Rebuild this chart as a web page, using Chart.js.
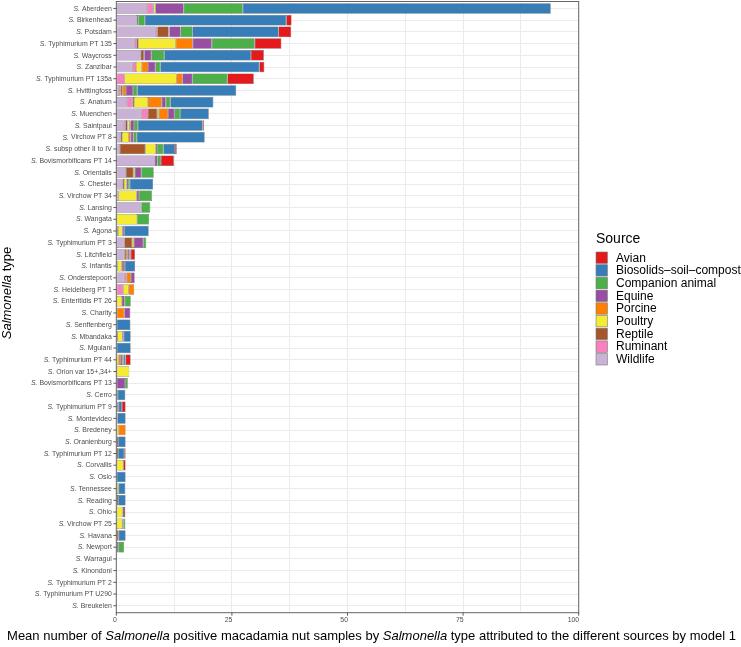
<!DOCTYPE html>
<html>
<head>
<meta charset="utf-8">
<script src="https://cdn.jsdelivr.net/npm/chart.js@4.4.1/dist/chart.umd.min.js"></script>
<style>
  html, body { margin: 0; padding: 0; background: #fff; }
  #wrap { position: relative; width: 741px; height: 647px; }
</style>
</head>
<body>
<div id="wrap"><canvas id="chartCanvas" width="741" height="647"></canvas></div>
<script>
// Salmonella types, top to bottom (the italic "S." is added when drawn)
const serotypes = ['Aberdeen', 'Birkenhead', 'Potsdam', 'Typhimurium PT 135', 'Waycross', 'Zanzibar',
  'Typhimurium PT 135a', 'Hvittingfoss', 'Anatum', 'Muenchen', 'Saintpaul', 'Virchow PT 8',
  'subsp other II to IV', 'Bovismorbificans PT 14', 'Orientalis', 'Chester', 'Virchow PT 34', 'Lansing',
  'Wangata', 'Agona', 'Typhimurium PT 3', 'Litchfield', 'Infantis', 'Onderstepoort', 'Heidelberg PT 1',
  'Enteritidis PT 26', 'Charity', 'Senftenberg', 'Mbandaka', 'Mgulani', 'Typhimurium PT 44',
  'Orion var 15+,34+', 'Bovismorbificans PT 13', 'Cerro', 'Typhimurium PT 9', 'Montevideo', 'Bredeney',
  'Oranienburg', 'Typhimurium PT 12', 'Corvallis', 'Oslo', 'Tennessee', 'Reading', 'Ohio',
  'Virchow PT 25', 'Havana', 'Newport', 'Warragul', 'Kinondoni', 'Typhimurium PT 2',
  'Typhimurium PT U290', 'Breukelen'];

// mean attributed samples per source (same order as serotypes)
const wildlife   = [6.6, 4.5, 8.5, 3.9, 5.26, 3.46, 0, 0.58, 2.24, 5.4, 1.59, 0.94, 0.8, 8.3, 2.1, 1.37, 0.5, 5.4, 0.1, 0.3, 1.73, 1.73, 0.25, 1.73, 0, 0, 0, 0, 0.3, 0, 0, 0, 0.1, 0, 0, 0, 0, 0, 0, 0, 0, 0.15, 0, 0, 0, 0, 0, 0, 0, 0, 0, 0];
const ruminant   = [1.3, 0, 0.35, 0.6, 0, 0.8, 1.8, 0.36, 1.23, 1.44, 0.5, 0, 0, 0, 0, 0, 0, 0, 0, 0, 0, 0, 0, 0.5, 1.5, 0, 0, 0, 0, 0, 0, 0, 0, 0, 0, 0, 0, 0, 0, 0, 0, 0, 0, 0, 0, 0, 0, 0, 0, 0, 0, 0];
const reptile    = [0.15, 0, 2.45, 0.2, 0.7, 0, 0, 0.43, 0.36, 2.0, 0.25, 0.3, 5.48, 0, 1.59, 0.3, 0, 0, 0, 0.1, 1.66, 0.4, 0, 0, 0, 0, 0, 0, 0, 0, 0, 0, 0, 0, 0.3, 0, 0, 0.4, 0.4, 0, 0, 0, 0.4, 0, 0, 0.5, 0, 0, 0, 0, 0, 0];
const poultry    = [0.4, 0, 0.1, 8.15, 0, 1.23, 11.2, 0, 3.03, 0.36, 0.5, 1.37, 2.24, 0, 0.36, 0.58, 3.9, 0, 4.4, 0.9, 0.43, 0, 0.9, 0, 1.15, 1.23, 0, 0, 1.0, 0, 0.5, 2.8, 0, 0, 0, 0.25, 0.5, 0, 0, 1.5, 0, 0.35, 0, 1.4, 1.3, 0, 0, 0, 0, 0, 0, 0];
const porcine    = [0, 0, 0.1, 3.68, 0.1, 1.37, 1.3, 0.72, 2.96, 2.0, 0.2, 0.5, 0, 0, 0, 0, 0, 0, 0, 0, 0, 0.35, 0.3, 0.94, 1.23, 0, 1.73, 0, 0, 0, 0.5, 0, 0, 0, 0, 0, 1.5, 0, 0, 0, 0, 0, 0, 0, 0, 0, 0, 0, 0, 0, 0, 0];
const equine     = [6.1, 0.25, 2.38, 4.1, 1.5, 1.59, 2.16, 1.51, 0.87, 1.37, 0.8, 0.58, 0.3, 0.6, 1.37, 0.3, 0.5, 0, 0, 0.4, 2.0, 0.35, 0.4, 0.8, 0, 0.58, 1.3, 0, 0.3, 0, 0.3, 0, 1.8, 0, 0.2, 0, 0, 0, 0, 0, 0, 0, 0, 0.25, 0.25, 0, 0.43, 0, 0, 0, 0, 0];
const companion  = [12.8, 1.4, 2.6, 9.3, 2.8, 1.08, 7.57, 0.94, 1.0, 1.23, 0.8, 0.72, 1.37, 0.75, 2.67, 0.36, 2.8, 1.95, 2.6, 0, 0.65, 0.3, 0, 0, 0, 1.3, 0, 0.1, 0, 0, 0.3, 0, 0.58, 0.3, 0, 0, 0, 0, 0, 0, 0, 0, 0, 0, 0.4, 0, 1.23, 0, 0, 0, 0, 0];
const biosolids  = [66.6, 30.6, 18.6, 0, 18.75, 21.4, 0, 21.4, 9.3, 6.2, 14.0, 14.7, 2.52, 0, 0, 5.05, 0, 0, 0, 5.3, 0, 0, 2.2, 0, 0, 0, 0, 2.95, 1.5, 3.1, 0.4, 0, 0, 1.65, 0.7, 1.75, 0, 1.6, 1.3, 0, 2.0, 1.45, 1.6, 0, 0, 1.5, 0, 0, 0, 0, 0, 0];
const avian      = [0, 1.15, 2.74, 5.77, 2.8, 1.08, 5.7, 0, 0, 0, 0.3, 0, 0.36, 2.8, 0, 0, 0, 0, 0, 0, 0, 0.9, 0, 0, 0, 0, 0, 0, 0, 0, 1.1, 0, 0, 0, 0.8, 0, 0, 0, 0.3, 0.5, 0, 0, 0, 0.3, 0, 0, 0, 0, 0, 0, 0, 0];

const xTicks = [0, 25, 50, 75, 100];

// legend order (top to bottom); bars stack in the reverse order
const sourceNames = ['Avian', 'Biosolids\u2013soil\u2013compost', 'Companion animal', 'Equine', 'Porcine', 'Poultry', 'Reptile', 'Ruminant', 'Wildlife'];
const sourceColors = ['#E41A1C', '#377EB8', '#4DAF4A', '#984EA3', '#FF7F00', '#F5EB32', '#A65628', '#F781BF', '#CAB2D6'];
const sourceValues = [avian, biosolids, companion, equine, porcine, poultry, reptile, ruminant, wildlife];

const FONT = "'Liberation Sans', Arial, Helvetica, sans-serif";

function drawRich(ctx, parts, x, y, size, align) {
  let total = 0;
  parts.forEach(p => {
    ctx.font = (p[1] ? 'italic ' : '') + size + 'px ' + FONT;
    total += ctx.measureText(p[0]).width;
  });
  let cx = align === 'right' ? x - total : align === 'center' ? x - total / 2 : x;
  ctx.textAlign = 'left';
  parts.forEach(p => {
    ctx.font = (p[1] ? 'italic ' : '') + size + 'px ' + FONT;
    ctx.fillText(p[0], cx, y);
    cx += ctx.measureText(p[0]).width;
  });
}

const panel = { top: 1.5, bottom: 612.7 };

const decorPlugin = {
  id: 'decor',
  afterDraw(chart) {
    const ctx = chart.ctx;
    const area = chart.chartArea;
    const xs = chart.scales.x, ys = chart.scales.y;
    ctx.save();

    // panel border
    ctx.strokeStyle = '#666';
    ctx.lineWidth = 1;
    ctx.strokeRect(area.left, panel.top, area.right - area.left, panel.bottom - panel.top);

    // y ticks and labels
    ctx.fillStyle = '#4D4D4D';
    ctx.textBaseline = 'middle';
    serotypes.forEach((s, i) => {
      const y = ys.getPixelForValue(i);
      ctx.strokeStyle = '#333';
      ctx.lineWidth = 0.8;
      ctx.beginPath();
      ctx.moveTo(area.left - 3, y);
      ctx.lineTo(area.left, y);
      ctx.stroke();
      drawRich(ctx, [['S.', true], [' ' + s, false]], area.left - 4.5, y + 0.3, 6.9, 'right');
    });

    // x ticks and labels
    xTicks.forEach(v => {
      const x = xs.getPixelForValue(v);
      ctx.strokeStyle = '#333';
      ctx.lineWidth = 0.8;
      ctx.beginPath();
      ctx.moveTo(x, panel.bottom);
      ctx.lineTo(x, panel.bottom + 3);
      ctx.stroke();
      ctx.font = '6.9px ' + FONT;
      ctx.textAlign = 'right';
      ctx.textBaseline = 'middle';
      ctx.fillText(String(v), x + 0.5, 620.5);
    });

    // axis titles
    ctx.fillStyle = '#000';
    ctx.textBaseline = 'middle';
    drawRich(ctx, [['Mean number of ', false], ['Salmonella', true], [' positive macadamia nut samples by ', false],
      ['Salmonella', true], [' type attributed to the different sources by model 1', false]], 371.5, 636.5, 13, 'center');

    ctx.save();
    ctx.translate(11, 293);
    ctx.rotate(-Math.PI / 2);
    ctx.textBaseline = 'alphabetic';
    drawRich(ctx, [['Salmonella', true], [' type', false]], 0, 0, 13, 'center');
    ctx.restore();

    // legend
    ctx.font = '14px ' + FONT;
    ctx.textAlign = 'left';
    ctx.textBaseline = 'alphabetic';
    ctx.fillText('Source', 596, 243.3);
    ctx.font = '12px ' + FONT;
    ctx.textBaseline = 'middle';
    sourceNames.forEach((name, i) => {
      const cy = 257.7 + i * 12.7;
      ctx.fillStyle = sourceColors[i];
      ctx.fillRect(596, cy - 5.7, 11.4, 11.4);
      ctx.strokeStyle = '#777';
      ctx.lineWidth = 0.6;
      ctx.strokeRect(596, cy - 5.7, 11.4, 11.4);
      ctx.fillStyle = '#000';
      ctx.fillText(name, 616, cy + 0.5);
    });

    ctx.restore();
  }
};

const datasets = [];
for (let i = sourceNames.length - 1; i >= 0; i--) {
  datasets.push({
    label: sourceNames[i],
    data: sourceValues[i],
    backgroundColor: sourceColors[i],
    borderColor: '#4D4D4D',
    borderWidth: 0.5,
    borderSkipped: false,
    barPercentage: 0.9,
    categoryPercentage: 1
  });
}

const ctx = document.getElementById('chartCanvas').getContext('2d');
new Chart(ctx, {
  type: 'bar',
  data: { labels: serotypes, datasets: datasets },
  options: {
    indexAxis: 'y',
    responsive: false,
    animation: false,
    devicePixelRatio: 1,
    layout: { padding: { left: 116.3, right: 162.3, top: 2.6, bottom: 35.4 } },
    plugins: { legend: { display: false }, tooltip: { enabled: false } },
    scales: {
      x: {
        type: 'linear', stacked: true, min: 0, max: 100,
        ticks: { display: false, stepSize: 12.5 },
        grid: { color: '#EBEBEB', lineWidth: 1, drawTicks: false },
        border: { display: false }
      },
      y: {
        stacked: true, offset: true,
        ticks: { display: false },
        grid: { offset: false, color: '#EBEBEB', lineWidth: 1, drawTicks: false },
        border: { display: false }
      }
    }
  },
  plugins: [decorPlugin]
});
</script>
</body>
</html>
